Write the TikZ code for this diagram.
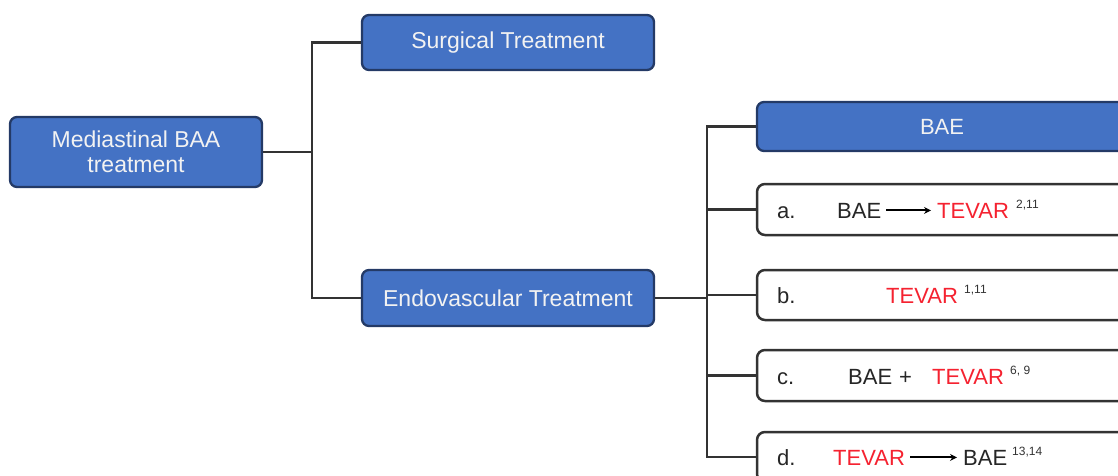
\documentclass[tikz,border=0pt]{standalone}
\usepackage{fontspec}
\setmainfont{Liberation Sans}
\usetikzlibrary{arrows.meta}
\definecolor{boxblue}{HTML}{4472C4}
\definecolor{boxedge}{HTML}{243A66}
\definecolor{linegray}{HTML}{333333}
\definecolor{tevarred}{HTML}{F52230}
\definecolor{paletext}{HTML}{F2F2F2}
\tikzset{
  bluebox/.style={draw=boxedge, line width=2.3pt, fill=boxblue, rounded corners=7pt,
    text=paletext, font=\fontsize{23}{25}\selectfont, align=center, inner sep=0pt},
  whitebox/.style={draw=linegray, line width=2.5pt, fill=white, rounded corners=8pt,
    inner sep=0pt, minimum width=370pt},
  conn/.style={draw=linegray, line width=2.4pt},
  txt/.style={font=\fontsize{22}{24}\selectfont, inner sep=0pt, anchor=base west, text=black!85},
  redtxt/.style={txt, text=tevarred},
  suptxt/.style={font=\fontsize{12}{13}\selectfont, inner sep=0pt, anchor=base west, text=black!80},
  arr/.style={draw=black, line width=1.9pt, -{Stealth[length=7pt,width=7pt]}}
}
\begin{document}
\begin{tikzpicture}[x=1pt,y=-1pt]
\clip (0,0) rectangle (1118,476);
\useasboundingbox (0,0) rectangle (1118,476);

% level 1 and 2
\node[bluebox, minimum width=252pt, minimum height=70pt] (root) at (136,152) {Mediastinal BAA\\treatment};
\node[bluebox, minimum width=292pt, minimum height=55pt] (surg) at (508,42.5) {Surgical Treatment};
\node[bluebox, minimum width=292pt, minimum height=56pt] (endo) at (508,298) {Endovascular Treatment};

% level 3
\node[bluebox, minimum width=370pt, minimum height=49pt, font=\fontsize{22}{24}\selectfont] (bae) at (942,126.5) {BAE};
\node[whitebox, minimum height=51pt] (boxa) at (942,209.5) {};
\node[whitebox, minimum height=50pt] (boxb) at (942,295) {};
\node[whitebox, minimum height=51pt] (boxc) at (942,375.5) {};
\node[whitebox, minimum height=50pt] (boxd) at (942,457) {};

% connectors
\coordinate (j1) at (312,152);
\coordinate (j2) at (707,298);
\draw[conn] (root.east) -- (j1);
\draw[conn] (surg.west) -| (j1) |- (endo.west);
\draw[conn] (endo.east) -- (j2);
\draw[conn] (bae.west) -| (j2) |- (boxd.west);
\draw[conn] (boxa.west) -- (boxa.west -| j2);
\draw[conn] (boxb.west) -- (boxb.west -| j2);
\draw[conn] (boxc.west) -- (boxc.west -| j2);

% a.
\node[txt] (la) at (777,218) {a.};
\node[txt] (aB) at (837,218) {BAE};
\node[redtxt] (aT) at (937,218) {TEVAR};
\node[suptxt] (aS) at (1016,208) {2,11};
\draw[arr] ([xshift=5pt]aB.east) -- ([xshift=-6pt]aT.west);

% b.
\node[txt] (lb) at (777,303) {b.};
\node[redtxt] (bT) at (886,303) {TEVAR};
\node[suptxt] (bS) at (964,293) {1,11};

% c.
\node[txt] (lc) at (777,384) {c.};
\node[txt] (cB) at (848,384) {BAE};
\node[txt] (cP) at (899,384) {+};
\node[redtxt] (cT) at (932,384) {TEVAR};
\node[suptxt] (cS) at (1010,374) {6, 9};

% d.
\node[txt] (ld) at (777,465) {d.};
\node[redtxt] (dT) at (833,465) {TEVAR};
\node[txt] (dB) at (963,465) {BAE};
\node[suptxt] (dS) at (1012,455) {13,14};
\draw[arr] ([xshift=5pt]dT.east) -- ([xshift=-6pt]dB.west);
\end{tikzpicture}
\end{document}
